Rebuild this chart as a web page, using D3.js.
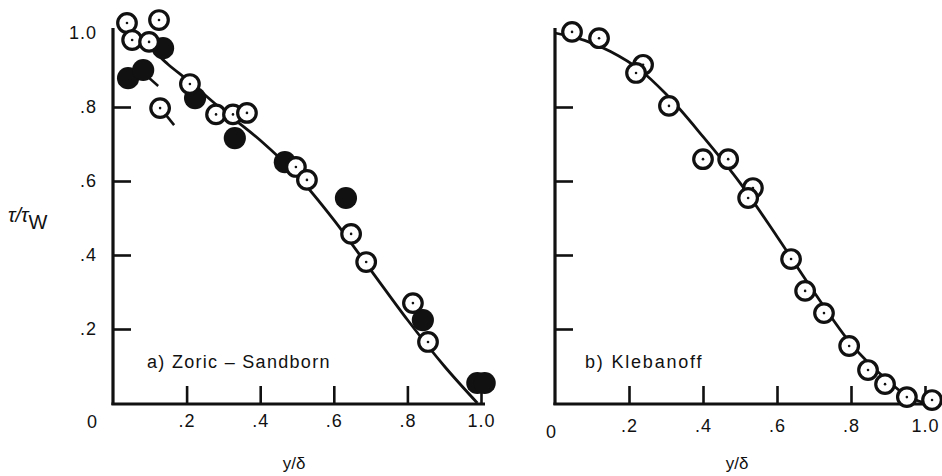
<!DOCTYPE html>
<html><head><meta charset="utf-8">
<script src="https://cdn.jsdelivr.net/npm/d3@7"></script>
<style>body{margin:0;background:#fff}text{font-family:"Liberation Sans",Arial,sans-serif;fill:#111}</style>
</head><body><svg id="c" width="942" height="476"></svg>
<script>
// ---- data ----
const xTickValues = [0.2, 0.4, 0.6, 0.8, 1.0];
const xTickLabels = [".2", ".4", ".6", ".8", "1.0"];
const yTickValues = [0.2, 0.4, 0.6, 0.8, 1.0];
const yTickLabels = [".2", ".4", ".6", ".8", "1.0"];
const zeroLabel = "0";
const xTitle = "y/δ";
const panelTitles = ["a) Zoric – Sandborn", "b) Klebanoff"];

// a) Zoric - Sandborn
const zoricOpenX = [0.038, 0.052, 0.098, 0.125, 0.128, 0.209, 0.28, 0.326, 0.364, 0.497, 0.527, 0.647, 0.688, 0.815, 0.856];
const zoricOpenY = [1.027, 0.981, 0.976, 1.035, 0.797, 0.862, 0.78, 0.78, 0.784, 0.638, 0.603, 0.457, 0.381, 0.27, 0.165];
const zoricOpenFlag = [0,0,0,0,1,0,0,0,0,0,0,0,0,0,0];
const zoricSolidX = [0.041, 0.082, 0.136, 0.223, 0.331, 0.467, 0.633, 0.842, 0.99, 1.01];
const zoricSolidY = [0.878, 0.9, 0.959, 0.824, 0.716, 0.651, 0.554, 0.224, 0.054, 0.054];
const zoricSolidFlag = [0,1,0,0,0,0,0,0,0,0];
const zoricCurveX = [0.06, 0.1, 0.15, 0.2, 0.3, 0.4, 0.5, 0.6, 0.7, 0.8, 0.9, 0.99];
const zoricCurveY = [0.985, 0.96, 0.915, 0.875, 0.79, 0.71, 0.615, 0.495, 0.36, 0.225, 0.1, 0.0];

// b) Klebanoff
const klebOpenX = [0.046, 0.119, 0.238, 0.219, 0.308, 0.4, 0.468, 0.535, 0.522, 0.638, 0.676, 0.727, 0.795, 0.846, 0.892, 0.951, 1.019];
const klebOpenY = [1.003, 0.986, 0.914, 0.892, 0.803, 0.659, 0.659, 0.581, 0.554, 0.389, 0.303, 0.243, 0.154, 0.089, 0.051, 0.016, 0.008];
const klebCurveX = [0.0, 0.08, 0.15, 0.23, 0.3, 0.4, 0.5, 0.6, 0.7, 0.8, 0.9, 0.95, 1.0];
const klebCurveY = [1.0, 0.98, 0.95, 0.9, 0.835, 0.72, 0.595, 0.45, 0.3, 0.16, 0.06, 0.02, 0.0];

// ---- drawing ----
const svg = d3.select("#c");
const R = 9.3;
const FONT = "Liberation Sans, Arial, sans-serif";
const panels = [
  {x0:113, x1:481, open:[zoricOpenX, zoricOpenY, zoricOpenFlag], solid:[zoricSolidX, zoricSolidY, zoricSolidFlag], curve:[zoricCurveX, zoricCurveY], title:panelTitles[0], tx:147, ty:368, ls:1.3, yLabels:true, zx:92, zy:428, pad:10},
  {x0:555, x1:925, open:[klebOpenX, klebOpenY, klebOpenX.map(()=>0)], solid:null, curve:[klebCurveX, klebCurveY], title:panelTitles[1], tx:585, ty:368, ls:1.8, yLabels:false, zx:551, zy:438, pad:15}
];

panels.forEach(p => {
  const x = d3.scaleLinear().domain([0,1]).range([p.x0, p.x1]);
  const y = d3.scaleLinear().domain([0,1]).range([403, 33]);
  const g = svg.append("g");

  // axes
  const xa = d3.axisBottom(x).tickValues(xTickValues).tickFormat((d,i)=>xTickLabels[i]).tickSizeInner(-18).tickSizeOuter(0).tickPadding(p.pad);
  const gx = g.append("g").attr("transform","translate(0,404)").call(xa);
  gx.select(".domain").attr("stroke","#111").attr("stroke-width",3.2).attr("d",`M${p.x0-1.6},0H${p.x1+4}`);
  gx.selectAll(".tick line").attr("stroke","#111").attr("stroke-width",2.6);
  gx.selectAll(".tick text").attr("font-size",18).attr("letter-spacing",1).attr("fill","#111").attr("font-family",FONT);

  const ya = d3.axisLeft(y).tickValues(yTickValues).tickFormat((d,i)=>p.yLabels ? yTickLabels[i] : "").tickSizeInner(-18).tickSizeOuter(0).tickPadding(16);
  const gy = g.append("g").attr("transform",`translate(${p.x0},0)`).call(ya);
  gy.select(".domain").attr("stroke","#111").attr("stroke-width",3.2).attr("d",`M0,${405}V28`);
  gy.selectAll(".tick line").attr("stroke","#111").attr("stroke-width",2.6).filter(d=>d===1.0).attr("x2",0);
  gy.selectAll(".tick text").attr("font-size",18).attr("letter-spacing",1).attr("fill","#111").attr("font-family",FONT);

  g.append("text").attr("x",p.zx).attr("y",p.zy).attr("text-anchor","middle").attr("font-size",18).text(zeroLabel);
  g.append("text").attr("x",(p.x0+p.x1)/2 - 3).attr("y",469).attr("text-anchor","middle").attr("font-size",17).text(xTitle);
  g.append("text").attr("x",p.tx).attr("y",p.ty).attr("font-size",18).attr("letter-spacing",p.ls).text(p.title);

  // curve
  const pts = p.curve[0].map((v,i)=>[v, p.curve[1][i]]);
  g.append("path").datum(pts).attr("fill","none").attr("stroke","#111").attr("stroke-width",2.8)
    .attr("d", d3.line().x(d=>x(d[0])).y(d=>y(d[1])).curve(d3.curveMonotoneX));

  // solid points
  if (p.solid) {
    const sd = p.solid[0].map((v,i)=>({x:v, y:p.solid[1][i], f:p.solid[2][i]}));
    g.selectAll(".tail1").data(sd.filter(d=>d.f)).join("line")
      .attr("x1",d=>x(d.x)+6).attr("y1",d=>y(d.y)+8).attr("x2",d=>x(d.x)+15).attr("y2",d=>y(d.y)+16)
      .attr("stroke","#111").attr("stroke-width",2.4);
    g.selectAll(".solid").data(sd).join("circle").attr("cx",d=>x(d.x)).attr("cy",d=>y(d.y)).attr("r",R+1.8).attr("fill","#111");
  }
  // open points
  const od = p.open[0].map((v,i)=>({x:v, y:p.open[1][i], f:p.open[2][i]}));
  g.selectAll(".tail2").data(od.filter(d=>d.f)).join("line")
    .attr("x1",d=>x(d.x)+6).attr("y1",d=>y(d.y)+7).attr("x2",d=>x(d.x)+14).attr("y2",d=>y(d.y)+17)
    .attr("stroke","#111").attr("stroke-width",2.6);
  g.selectAll(".open").data(od).join("circle").attr("cx",d=>x(d.x)).attr("cy",d=>y(d.y)).attr("r",R)
    .attr("fill","#fff").attr("stroke","#111").attr("stroke-width",3.2);
  g.selectAll(".dot").data(od).join("circle").attr("cx",d=>x(d.x)).attr("cy",d=>y(d.y)).attr("r",1.3).attr("fill","#111");
});

// y title
const yt = svg.append("text").attr("x",8).attr("y",222).attr("font-size",20);
yt.append("tspan").attr("font-style","italic").text("τ/τ");
yt.append("tspan").attr("dy",7).attr("font-size",20).text("W");
</script></body></html>
